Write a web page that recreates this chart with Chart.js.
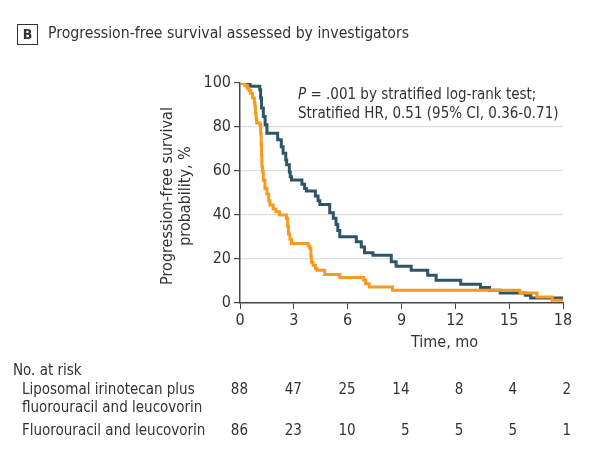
<!DOCTYPE html>
<html lang="en">
<head>
    <meta charset="UTF-8">
    <title>Progression-free survival assessed by investigators</title>
    <script src="https://cdn.jsdelivr.net/npm/chart.js"></script>
    <style>
        body {
            margin: 0;
            background: #fff;
        }
        canvas {
            display: block;
        }
    </style>
</head>
<body>
    <canvas id="pfsChart" width="606" height="461"></canvas>
    <script>
        // Kaplan-Meier steps (time in months, survival in %)
        const liposomalTimes = [0, 0.56, 1.1, 1.15, 1.2, 1.3, 1.4, 1.5, 2.1, 2.3, 2.4, 2.55, 2.6, 2.75, 2.8, 2.87,
            3.45, 3.6, 3.7, 4.2, 4.35, 4.45, 5.0, 5.2, 5.35, 5.45, 5.56, 6.48, 6.76, 6.94, 7.41, 8.43, 8.7,
            9.54, 10.46, 10.93, 12.3, 13.4, 13.9, 14.5, 15.9, 16.2, 18];
        const liposomalSurvival = [100, 98.5, 96.9, 93.2, 88.6, 84.8, 81, 77.2, 74.2, 71, 68.1, 65, 62.8, 59.5, 57.4, 55.9,
            54, 52, 50.9, 48.6, 46.5, 44.8, 41, 38.5, 35.7, 33, 30.1, 27.8, 25.5, 22.8, 21.7, 18.7, 16.7,
            14.9, 12.6, 10.3, 8.5, 7, 5.8, 4.6, 3.5, 2.3, 2.3];

        const controlTimes = [0, 0.28, 0.4, 0.5, 0.6, 0.7, 0.8, 0.83, 0.86, 0.9, 0.93, 1.11, 1.15, 1.18, 1.2, 1.22, 1.25,
            1.3, 1.39, 1.5, 1.6, 1.67, 1.85, 2.0, 2.2, 2.59, 2.65, 2.7, 2.78, 2.87, 3.8, 3.89, 3.95, 3.98, 4.07,
            4.2, 4.3, 4.72, 5.56, 6.9, 7.0, 7.2, 8.5, 15.6, 16.55, 17.4, 18];
        const controlSurvival = [100, 98.8, 97.6, 96.5, 95.3, 93.2, 91, 89.4, 86, 83.7, 81.8, 81, 77, 72, 67, 62, 59.7,
            55.8, 52.1, 49.5, 46.5, 44.5, 42.7, 41.5, 40, 38.4, 35, 31.4, 29, 27, 25.9, 24.8, 21, 18.5, 17.2,
            15.7, 14.9, 13, 11.6, 10.3, 8.8, 7.3, 5.8, 4.6, 2.7, 1.2, 1.2];

        const riskTimes = [0, 3, 6, 9, 12, 15, 18];
        const riskLiposomal = [88, 47, 25, 14, 8, 4, 2];
        const riskControl = [86, 23, 10, 5, 5, 5, 1];

        const FONT = '"Liberation Sans Narrow", "DejaVu Sans Condensed", "Roboto Condensed", sans-serif';
        const TEXT = '#333333';
        const TEAL = '#2e5566';
        const ORANGE = '#f89a1f';

        function toPoints(times, values) {
            return times.map((t, i) => ({ x: t, y: values[i] }));
        }

        // extra text: panel title, axis titles, annotation, number at risk table
        const extraText = {
            id: 'extraText',
            afterDraw(chart) {
                const ctx = chart.ctx;
                const xScale = chart.scales.x;
                ctx.save();
                ctx.fillStyle = TEXT;
                ctx.textBaseline = 'middle';

                // panel letter box
                ctx.strokeStyle = '#333';
                ctx.lineWidth = 1;
                ctx.strokeRect(17.5, 24.5, 20, 20);
                ctx.font = 'bold 14px ' + FONT;
                ctx.textAlign = 'center';
                ctx.fillText('B', 27.5, 35);
                ctx.font = '15.7px ' + FONT;
                ctx.textAlign = 'left';
                ctx.fillText('Progression-free survival assessed by investigators', 48, 34);

                // y axis title
                ctx.save();
                ctx.translate(177, 196);
                ctx.rotate(-Math.PI / 2);
                ctx.textAlign = 'center';
                ctx.font = '16px ' + FONT;
                ctx.fillText('Progression-free survival', 0, -9);
                ctx.fillText('probability, %', 0, 9);
                ctx.restore();

                // x axis title
                ctx.font = '16px ' + FONT;
                ctx.textAlign = 'left';
                ctx.fillText('Time, mo', 411, 343);

                // annotation
                ctx.font = 'italic 15px ' + FONT;
                ctx.fillText('P', 298, 95);
                const pw = ctx.measureText('P').width;
                ctx.font = '15px ' + FONT;
                ctx.fillText(' = .001 by stratified log-rank test;', 298 + pw, 95);
                ctx.fillText('Stratified HR, 0.51 (95% CI, 0.36-0.71)', 298, 114);

                // number at risk
                ctx.font = '15px ' + FONT;
                ctx.fillText('No. at risk', 13, 371);
                ctx.fillText('Liposomal irinotecan plus', 22, 390);
                ctx.fillText('fluorouracil and leucovorin', 22, 408);
                ctx.fillText('Fluorouracil and leucovorin', 22, 431);
                ctx.textAlign = 'right';
                riskTimes.forEach((t, i) => {
                    const px = xScale.getPixelForValue(t) + 8;
                    ctx.fillText(String(riskLiposomal[i]), px, 390);
                    ctx.fillText(String(riskControl[i]), px, 431);
                });
                ctx.restore();
            }
        };

        const ctx = document.getElementById('pfsChart').getContext('2d');
        new Chart(ctx, {
            type: 'line',
            data: {
                datasets: [
                    {
                        label: 'Fluorouracil and leucovorin',
                        data: toPoints(controlTimes, controlSurvival),
                        borderColor: ORANGE,
                        borderWidth: 3,
                        stepped: true,
                        pointRadius: 0,
                        fill: false
                    },
                    {
                        label: 'Liposomal irinotecan plus fluorouracil and leucovorin',
                        data: toPoints(liposomalTimes, liposomalSurvival),
                        borderColor: TEAL,
                        borderWidth: 3,
                        stepped: true,
                        pointRadius: 0,
                        fill: false
                    }
                ]
            },
            options: {
                responsive: false,
                animation: false,
                layout: {
                    padding: { left: 0, top: 83, right: 43, bottom: 128 }
                },
                plugins: {
                    legend: { display: false },
                    tooltip: { enabled: false }
                },
                scales: {
                    x: {
                        type: 'linear',
                        min: 0,
                        max: 18,
                        afterFit: (scale) => { scale.height = 30; },
                        ticks: {
                            stepSize: 3,
                            color: TEXT,
                            font: { family: FONT, size: 16 },
                            padding: 2
                        },
                        grid: {
                            drawOnChartArea: false,
                            tickLength: 6,
                            tickColor: '#444'
                        },
                        border: { color: '#444', width: 1.5 }
                    },
                    y: {
                        min: 0,
                        max: 100,
                        afterFit: (scale) => { scale.width = 240; },
                        ticks: {
                            stepSize: 20,
                            color: TEXT,
                            font: { family: FONT, size: 16 },
                            padding: 3
                        },
                        grid: {
                            color: (c) => (c.tick && c.tick.value > 0 && c.tick.value < 100) ? '#dedede' : 'rgba(0,0,0,0)',
                            lineWidth: 1.2,
                            tickLength: 6,
                            tickColor: '#444'
                        },
                        border: { color: '#444', width: 1.5 }
                    }
                }
            },
            plugins: [extraText]
        });
    </script>
</body>
</html>
